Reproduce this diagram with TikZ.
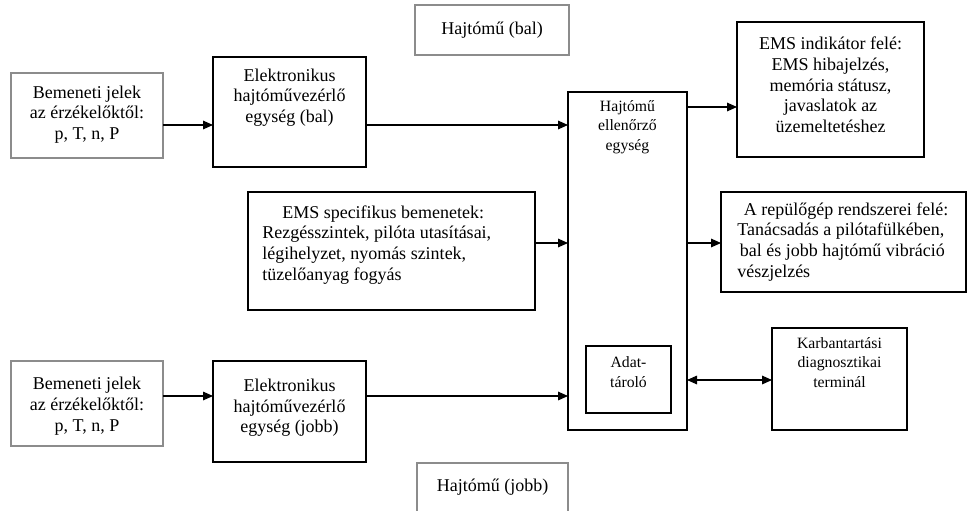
\documentclass[tikz,border=0pt]{standalone}
\usepackage{fontspec}
\setmainfont{Liberation Serif}
\usetikzlibrary{arrows.meta}
\begin{document}
\begin{tikzpicture}[x=0.75pt,y=-0.75pt,
  bx/.style 2 args={draw=black, line width=0.8pt, minimum width=#1*0.75pt, minimum height=#2*0.75pt, inner sep=0pt, outer sep=0pt},
  gbx/.style 2 args={bx={#1}{#2}, draw=black!45},
  txt/.style={font=\fontsize{13.5}{15.5}\selectfont, align=center, inner sep=0pt},
  stxt/.style={font=\fontsize{11.8}{14.5}\selectfont, align=center, inner sep=0pt},
  arr/.style={line width=0.8pt, -{Triangle[length=7.5pt,width=6.5pt]}},
  darr/.style={line width=0.8pt, {Triangle[length=7.5pt,width=6.5pt]}-{Triangle[length=7.5pt,width=6.5pt]}}]
\useasboundingbox (0,0) rectangle (972,511);
\clip (0,0) rectangle (972,511);
% boxes
\node[gbx={154}{50}] (hbal) at (492,30) {};
\node[gbx={152}{85}] (inL) at (87,115.5) {};
\node[bx={153}{110}] (ecuL) at (289.5,112) {};
\node[bx={287}{118}] (ems) at (391.5,251) {};
\node[bx={119}{338}] (mon) at (627.5,261) {};
\node[bx={85}{67}] (adat) at (628.5,379.5) {};
\node[bx={187}{135}] (ind) at (830.5,89.5) {};
\node[bx={245}{100}] (rep) at (843.5,242) {};
\node[bx={135}{102}] (karb) at (839.5,379) {};
\node[gbx={152}{85}] (inR) at (87,403.5) {};
\node[bx={153}{101}] (ecuR) at (289.5,411.5) {};
\node[gbx={151}{57}] (hjobb) at (492.5,491.5) {};
% texts
\node[txt] (thbal) at (492,30) {Hajtómű (bal)};
\node[txt] (tinL) at (87,114.5) {Bemeneti jelek\\az érzékelőktől:\\p, T, n, P};
\node[txt] (tecuL) at (289.5,97.5) {Elektronikus\\hajtóművezérlő\\egység (bal)};
\node[stxt] (tmon) at (627.5,127) {Hajtómű\\ellenőrző\\egység};
\node[txt] (tind) at (830.5,85) {EMS indikátor felé:\\EMS hibajelzés,\\memória státusz,\\javaslatok az\\üzemeltetéshez};
\node[txt, anchor=west] (tems) at (262,245) {\begin{tabular}{@{}l@{}}\hspace*{15pt}EMS specifikus bemenetek:\\Rezgésszintek, pilóta utasításai,\\légihelyzet, nyomás szintek,\\tüzelőanyag fogyás\end{tabular}};
\node[txt, anchor=west] (trep) at (737,242) {\begin{tabular}{@{}l@{}}\hspace*{5pt}A repülőgép rendszerei felé:\\Tanácsadás a pilótafülkében,\\\hspace*{2pt}bal és jobb hajtómű vibráció\\vészjelzés\end{tabular}};
\node[stxt] (tadat) at (628.5,372) {Adat-\\tároló};
\node[stxt] (tkarb) at (839.5,362.5) {Karbantartási\\diagnosztikai\\terminál};
\node[txt] (tinR) at (87,406) {Bemeneti jelek\\az érzékelőktől:\\p, T, n, P};
\node[txt] (tecuR) at (289.5,408) {Elektronikus\\hajtóművezérlő\\egység (jobb)};
\node[txt] (thjobb) at (492.5,487) {Hajtómű (jobb)};
% levels
\coordinate (yA) at (0,125);
\coordinate (yB) at (0,243);
\coordinate (yC) at (0,396);
\coordinate (yD) at (0,107);
\coordinate (yE) at (0,380);
% connectors
\draw[arr] (inL.east |- yA) -- (ecuL.west |- yA);
\draw[arr] (ecuL.east |- yA) -- (mon.west |- yA);
\draw[arr] (ems.east |- yB) -- (mon.west |- yB);
\draw[arr] (inR.east |- yC) -- (ecuR.west |- yC);
\draw[arr] (ecuR.east |- yC) -- (mon.west |- yC);
\draw[arr] (mon.east |- yD) -- (ind.west |- yD);
\draw[arr] (mon.east |- yB) -- (rep.west |- yB);
\draw[darr] (mon.east |- yE) -- (karb.west |- yE);
\end{tikzpicture}
\end{document}
